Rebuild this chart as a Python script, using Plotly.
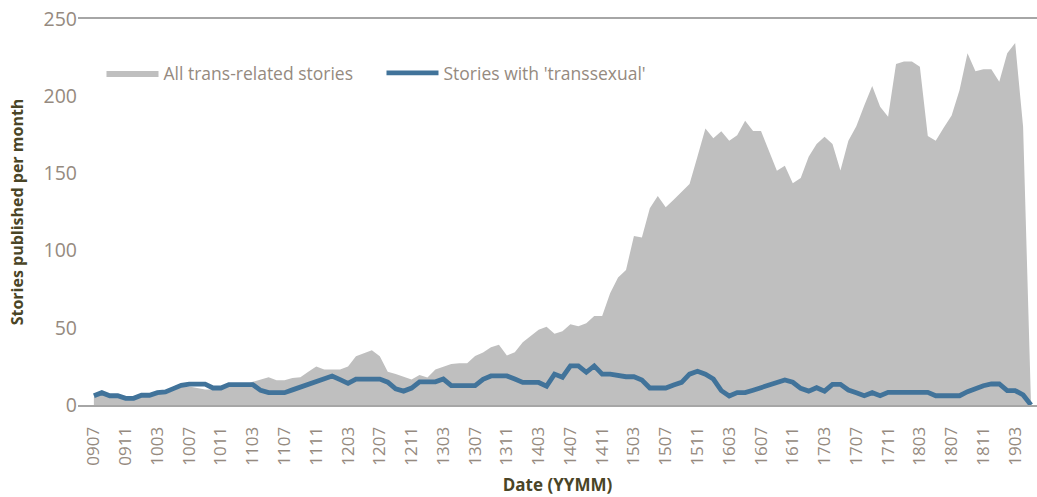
import plotly.graph_objects as go

# Month categories (YYMM), July 2009 .. May 2019
months = []
y, m = 9, 7
for _ in range(119):
    months.append(f"{y:02d}{m:02d}")
    m += 1
    if m > 12:
        m = 1
        y += 1

all_stories = [
    5, 7, 6, 6, 4, 4, 6, 6, 8, 8,
    10, 12, 12, 11, 10, 10, 11, 13, 13, 13,
    15, 16.5, 18, 16, 16, 17.5, 18, 21.5, 25, 23,
    23, 23, 25, 31.5, 33.5, 35.5, 31.5, 21.5, 20, 18,
    16.5, 19.5, 17.8, 23, 25, 26.5, 27, 27, 31.7, 34,
    37.4, 39, 32, 34.2, 40.7, 44.5, 48.8, 50.7, 46.2, 47.7,
    52.3, 51, 53, 57.6, 57.6, 72.3, 82.5, 87.4, 109.5, 108.5,
    127.4, 135.4, 128, 133, 138.2, 143.2, 161, 179, 172.7, 177.3,
    171.1, 174.7, 184.1, 177.5, 177.5, 165, 151.7, 155, 143.6, 147,
    160.8, 169, 173.8, 169, 151.8, 171.2, 180.5, 194, 206.6, 193.2,
    186.7, 220.9, 222.4, 222.4, 219, 174.2, 171.1, 179.6, 187.5, 204,
    227.8, 216.1, 217.5, 217.4, 209.4, 227.8, 234.4, 180.2, 0,
]

transsexual = [
    6, 8, 6, 6, 4.3, 4.3, 6.3, 6.3, 8, 8.5,
    10.6, 12.7, 13.5, 13.5, 13.5, 11, 11, 13.2, 13.2, 13.2,
    13.2, 9.5, 8, 8, 8, 9.8, 11.6, 13.4, 15.2, 17,
    18.8, 16.4, 14, 16.8, 16.8, 16.8, 16.8, 14.8, 10.5, 9,
    11, 15, 15, 15, 16.8, 12.5, 12.5, 12.5, 12.5, 16.6,
    18.8, 18.8, 18.8, 16.8, 14.6, 14.6, 14.6, 12.2, 20, 18,
    25.3, 25.3, 21.2, 25.3, 20, 20, 19.2, 18.3, 18.3, 16.2,
    11, 11, 11, 13, 14.7, 20, 21.8, 20, 16.8, 9.3,
    5.8, 8, 8, 9.6, 11.2, 12.9, 14.5, 16.2, 14.7, 10.8,
    9, 11.2, 9, 13.4, 13.4, 9.7, 8, 6, 8, 6,
    8.2, 8.2, 8.2, 8.2, 8.2, 8.2, 6, 6, 6, 6,
    8.6, 10.8, 12.5, 13.6, 13.6, 9.3, 9.3, 6.5, 0,
]

y_ticks = [0, 50, 100, 150, 200, 250]

idx = list(range(len(months)))
tick_idx = idx[::4]
tick_txt = [months[i] for i in tick_idx]

FONT = "Open Sans, Liberation Sans, sans-serif"
TICK_COLOR = "#958A80"
TITLE_COLOR = "#4A4526"
AXIS_COLOR = "#A6A6A6"

fig = go.Figure()
fig.add_trace(go.Scatter(
    x=idx, y=all_stories, mode="lines", fill="tozeroy",
    fillcolor="#BFBFBF", line=dict(width=0, color="#BFBFBF"),
    name="All trans-related stories",
))
fig.add_trace(go.Scatter(
    x=idx, y=transsexual, mode="lines",
    line=dict(width=4.8, color="#41739A"),
    name="Stories with 'transsexual'",
))

fig.update_layout(
    width=1037, height=497,
    margin=dict(l=78, r=0, t=19, b=92),
    paper_bgcolor="white", plot_bgcolor="white",
    font=dict(family=FONT, color=TICK_COLOR),
    showlegend=True,
    legend=dict(
        orientation="h", x=0.0245, y=0.86, xanchor="left", yanchor="middle",
        font=dict(size=17.5, color=TICK_COLOR, family=FONT), itemwidth=52,
        entrywidth=213, entrywidthmode="pixels",
        bgcolor="rgba(0,0,0,0)", traceorder="normal",
    ),
)
fig.update_xaxes(
    range=[-2.0, 118.75], tickmode="array", tickvals=tick_idx, ticktext=tick_txt,
    tickangle=-90, tickfont=dict(size=17, color=TICK_COLOR, family=FONT),
    showgrid=False, zeroline=False, showline=True, linecolor=AXIS_COLOR,
    linewidth=2, mirror=True, ticks="", ticklabelstandoff=13, automargin=False,
    title=dict(text="<b>Date (YYMM)</b>", font=dict(size=17, color=TITLE_COLOR, family=FONT), standoff=14),
)
fig.update_yaxes(
    range=[0, 250], tickmode="array", tickvals=y_ticks,
    tickfont=dict(size=19.5, color=TICK_COLOR, family=FONT),
    showgrid=False, zeroline=False, showline=False, ticks="", automargin=False,
    title=dict(text="<b>Stories published per month</b>", font=dict(size=16, color=TITLE_COLOR, family=FONT), standoff=15),
)

fig.write_html(
    "out.html",
    config={"displayModeBar": False},
    post_script="document.body.style.margin='0';document.body.style.overflow='hidden';",
)
